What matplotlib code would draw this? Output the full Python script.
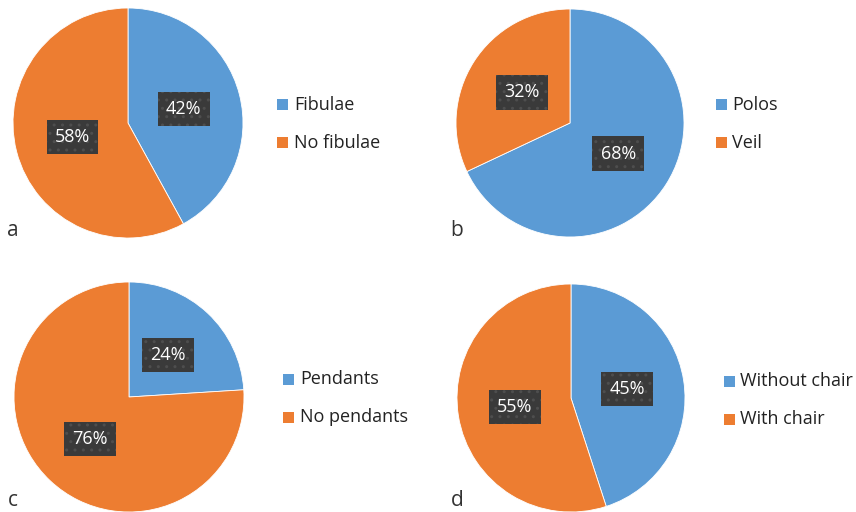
import matplotlib.pyplot as plt

plt.rcParams['font.family'] = ['Open Sans', 'DejaVu Sans']

# data
panels = ["a", "b", "c", "d"]
labels_a = ["Fibulae", "No fibulae"]
values_a = [42, 58]
labels_b = ["Polos", "Veil"]
values_b = [68, 32]
labels_c = ["Pendants", "No pendants"]
values_c = [24, 76]
labels_d = ["Without chair", "With chair"]
values_d = [45, 55]

colors = ["#5B9BD5", "#ED7D31"]
W, H = 856, 512

fig = plt.figure(figsize=(W / 100, H / 100), dpi=100)

# (center x, center y, radius) in pixels, legend square x/y, panel letter x/y
layout = [
    (128, 123, 115, 282.5, 104.5, 13, 231),
    (570, 123, 114, 721, 104.5, 457, 231),
    (129, 397, 115, 288.5, 379.5, 13, 500),
    (571, 398, 114, 729, 381.5, 457, 500),
]
all_labels = [labels_a, labels_b, labels_c, labels_d]
all_values = [values_a, values_b, values_c, values_d]

for (cx, cy, r, lx, ly, tx, ty), labs, vals, p in zip(layout, all_labels, all_values, panels):
    ax = fig.add_axes([(cx - r) / W, (H - cy - r) / H, 2 * r / W, 2 * r / H])
    wedges, texts = ax.pie(vals, colors=colors, startangle=90, counterclock=False,
                           labels=[f"{v}%" for v in vals], labeldistance=0.5,
                           wedgeprops=dict(linewidth=0.6, edgecolor="white"),
                           textprops=dict(color="white", fontsize=13, ha="center", va="center"))
    for t in texts:
        t.set_bbox(dict(boxstyle="square,pad=0.45", facecolor="#3a3a3a",
                        edgecolor="#4e4e4e", hatch="..", linewidth=0))
    ax.set_xlim(-1, 1)
    ax.set_ylim(-1, 1)
    ax.set_aspect("equal")

    # legend
    for i, lab in enumerate(labs):
        y = ly + i * 38
        fig.patches.append(plt.Rectangle(((lx - 5.5) / W, (H - y - 5.5) / H), 11 / W, 11 / H,
                                         transform=fig.transFigure, facecolor=colors[i],
                                         edgecolor="none"))
        fig.text((lx + 11.5) / W, (H - y) / H, lab, fontsize=13, color="#222222",
                 ha="left", va="center")
    fig.text(tx / W, (H - ty) / H, p, fontsize=15, color="#333333", ha="center", va="center")

fig.savefig("out.png", dpi=100, facecolor="white")
